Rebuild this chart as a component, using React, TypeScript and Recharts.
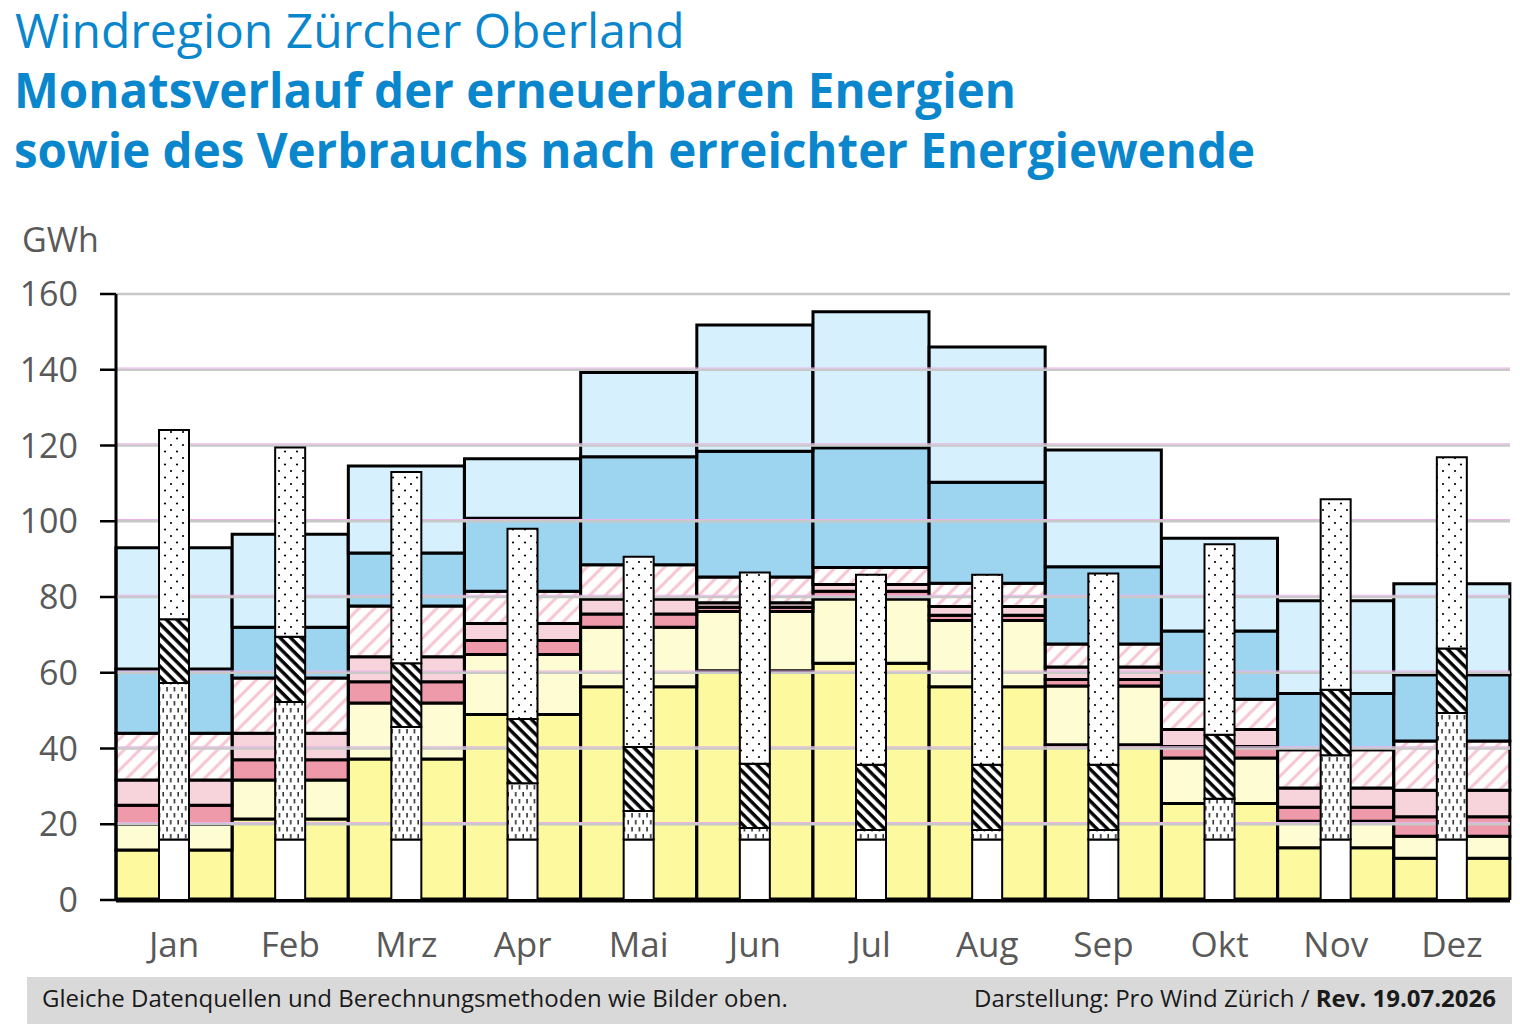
import React from "react";
import { BarChart, Bar, XAxis, YAxis, ReferenceLine } from "recharts";

// ---- Data ----
const months = ["Jan", "Feb", "Mrz", "Apr", "Mai", "Jun", "Jul", "Aug", "Sep", "Okt", "Nov", "Dez"];

// Production layers (GWh, stacked segment values)
const prodYellow = [13.2, 21.4, 37.2, 49, 56.3, 60.5, 62.5, 56.3, 41, 25.5, 13.8, 11];
const prodLightYellow = [6.8, 10.3, 14.8, 15.8, 15.7, 15.7, 17, 17.5, 15.5, 12, 7, 5.8];
const prodDarkPink = [5, 5.3, 5.6, 3.7, 3.5, 1.1, 2, 1.4, 1.7, 3, 3.7, 5.2];
const prodLightPink = [6.7, 7, 6.6, 4.5, 4, 1.2, 1.8, 2.3, 3.3, 4.5, 5.1, 7];
const prodHatchPink = [12.3, 14.6, 13.4, 8.5, 9, 6.8, 4.5, 6.1, 6.1, 8, 10.1, 13];
const prodBlue = [17, 13.4, 14, 19.3, 28.5, 33.2, 31.6, 26.7, 20.4, 18, 14.8, 17.5];
const prodLightBlue = [32, 24.6, 23, 15.7, 22.3, 33.3, 35.9, 35.7, 30.8, 24.5, 24.5, 24];

// Consumption layers (GWh, stacked segment values)
const consBase = [16, 16, 16, 16, 16, 16, 16, 16, 16, 16, 16, 16];
const consDashes = [41.3, 36.3, 29.7, 14.8, 7.5, 3, 2.5, 2.5, 2.5, 10.7, 22.2, 33.4];
const consHatch = [16.8, 17.2, 16.8, 17, 16.9, 17, 17.2, 17.2, 17.2, 16.9, 17.3, 17];
const consDots = [50, 50, 50.5, 50.2, 50.2, 50.5, 50.2, 50.2, 50.5, 50.3, 50.3, 50.5];

const yTicks = [0, 20, 40, 60, 80, 100, 120, 140, 160];
const gridTicks = [20, 40, 60, 80, 100, 120, 140, 160];

const data = months.map((m, i) => ({
  month: m,
  p1: prodYellow[i],
  p2: prodLightYellow[i],
  p3: prodDarkPink[i],
  p4: prodLightPink[i],
  p5: prodHatchPink[i],
  p6: prodBlue[i],
  p7: prodLightBlue[i],
  c1: consBase[i],
  c2: consDashes[i],
  c3: consHatch[i],
  c4: consDots[i],
}));

const FONT = "'Open Sans', 'Noto Sans', sans-serif";
const W = 1520;
const H = 1034;
const MARGIN_TOP = 294;
const MARGIN_RIGHT = 10;
const PLOT_LEFT = 116;
const PLOT_BOTTOM_SPACE = 134;

const GridShape = (props: any) => {
  const { x1, x2, y1, top } = props;
  return (
    <g>
      <line x1={x1} x2={x2} y1={y1} y2={y1} stroke="#c8c8c8" strokeWidth={2.5} />
      {!top && <line x1={x1} x2={x2} y1={y1 - 1.8} y2={y1 - 1.8} stroke="#eab4ea" strokeWidth={1.1} />}
    </g>
  );
};

const prodStroke = { stroke: "#000", strokeWidth: 3 };
const consStroke = { stroke: "#000", strokeWidth: 2 };

export default function App() {
  return (
    <div
      style={{
        position: "relative",
        width: W,
        height: H,
        margin: -8,
        background: "#fff",
        fontFamily: FONT,
        overflow: "hidden",
      }}
    >
      <div style={{ position: "absolute", left: 15, top: 0, fontSize: 48, lineHeight: "60px", color: "#0a86cd", whiteSpace: "nowrap" }}>
        Windregion Zürcher Oberland
      </div>
      <div style={{ position: "absolute", left: 14, top: 66, fontSize: 47.5, lineHeight: "47.5px", fontWeight: 700, color: "#0a86cd", whiteSpace: "nowrap" }}>
        Monatsverlauf der erneuerbaren Energien
      </div>
      <div style={{ position: "absolute", left: 14, top: 126, fontSize: 47.5, lineHeight: "47.5px", fontWeight: 700, color: "#0a86cd", whiteSpace: "nowrap" }}>
        sowie des Verbrauchs nach erreichter Energiewende
      </div>
      <div style={{ position: "absolute", left: 22, top: 222, fontSize: 34, lineHeight: "34px", color: "#595959", whiteSpace: "nowrap" }}>
        GWh
      </div>

      {/* Production chart with axes and grid */}
      <div style={{ position: "absolute", left: 0, top: 0 }}>
        <BarChart
          width={W}
          height={H}
          data={data}
          margin={{ top: MARGIN_TOP, right: MARGIN_RIGHT, left: 16, bottom: PLOT_BOTTOM_SPACE - 50 }}
          barCategoryGap={0}
          barGap={0}
        >
          <defs>
            <pattern id="hatchPink" patternUnits="userSpaceOnUse" width="11" height="11" patternTransform="rotate(45)">
              <rect width="11" height="11" fill="#ffffff" />
              <line x1="2" y1="0" x2="2" y2="11" stroke="#f6c4d1" strokeWidth="3" />
            </pattern>
          </defs>
          <XAxis
            dataKey="month"
            height={50}
            axisLine={{ stroke: "#000", strokeWidth: 5 }}
            tickLine={false}
            tickSize={0}
            tickMargin={32}
            tick={{ fontSize: 35, fill: "#595959", fontFamily: FONT }}
            interval={0}
          />
          <YAxis
            width={100}
            domain={[0, 160]}
            ticks={yTicks}
            type="number"
            allowDataOverflow
            axisLine={{ stroke: "#000", strokeWidth: 3 }}
            tickLine={{ stroke: "#000", strokeWidth: 2.5 }}
            tickSize={16}
            tickMargin={22}
            tick={{ fontSize: 34, fill: "#595959", fontFamily: FONT }}
          />
          <Bar dataKey="p1" stackId="p" fill="#fdf99f" {...prodStroke} isAnimationActive={false} zIndex={300} />
          <Bar dataKey="p2" stackId="p" fill="#fefcd2" {...prodStroke} isAnimationActive={false} zIndex={300} />
          <Bar dataKey="p3" stackId="p" fill="#ee9aab" {...prodStroke} isAnimationActive={false} zIndex={300} />
          <Bar dataKey="p4" stackId="p" fill="#f7d3dc" {...prodStroke} isAnimationActive={false} zIndex={300} />
          <Bar dataKey="p5" stackId="p" fill="url(#hatchPink)" {...prodStroke} isAnimationActive={false} zIndex={300} />
          <Bar dataKey="p6" stackId="p" fill="#9dd5f1" {...prodStroke} isAnimationActive={false} zIndex={300} />
          <Bar dataKey="p7" stackId="p" fill="#d6f1fd" {...prodStroke} isAnimationActive={false} zIndex={300} />
          {gridTicks.map((t) => (
            <ReferenceLine
              key={t}
              y={t}
              zIndex={350}
              ifOverflow="extendDomain"
              shape={(p: any) => <GridShape {...p} top={t === 160} />}
            />
          ))}
        </BarChart>
      </div>

      {/* Consumption chart overlaid */}
      <div style={{ position: "absolute", left: 0, top: 0 }}>
        <BarChart
          width={W}
          height={H}
          data={data}
          margin={{ top: MARGIN_TOP, right: MARGIN_RIGHT, left: PLOT_LEFT, bottom: PLOT_BOTTOM_SPACE }}
          barSize={30}
          barGap={0}
        >
          <defs>
            <pattern id="hatchBlack" patternUnits="userSpaceOnUse" width="7.5" height="7.5" patternTransform="rotate(-45)">
              <rect width="7.5" height="7.5" fill="#ffffff" />
              <line x1="2" y1="0" x2="2" y2="7.5" stroke="#000" strokeWidth="3.4" />
            </pattern>
            <pattern id="dotsPat" patternUnits="userSpaceOnUse" width="12" height="13">
              <rect width="12" height="13" fill="#ffffff" />
              <circle cx="3" cy="3" r="1.1" fill="#000" />
              <circle cx="9" cy="9.5" r="1.1" fill="#000" />
            </pattern>
            <pattern id="dashPat" patternUnits="userSpaceOnUse" width="7.5" height="14">
              <rect width="7.5" height="14" fill="#ffffff" />
              <line x1="2" y1="1" x2="2" y2="5.5" stroke="#000" strokeWidth="1.3" />
              <line x1="5.75" y1="8" x2="5.75" y2="12.5" stroke="#000" strokeWidth="1.3" />
            </pattern>
          </defs>
          <XAxis dataKey="month" hide />
          <YAxis hide domain={[0, 160]} type="number" allowDataOverflow />
          <Bar dataKey="c1" stackId="c" fill="#ffffff" {...consStroke} isAnimationActive={false} zIndex={400} />
          <Bar dataKey="c2" stackId="c" fill="url(#dashPat)" {...consStroke} isAnimationActive={false} zIndex={400} />
          <Bar dataKey="c3" stackId="c" fill="url(#hatchBlack)" {...consStroke} isAnimationActive={false} zIndex={400} />
          <Bar dataKey="c4" stackId="c" fill="url(#dotsPat)" {...consStroke} isAnimationActive={false} zIndex={400} />
        </BarChart>
      </div>

      {/* Footer */}
      <div style={{ position: "absolute", left: 27, top: 977, width: 1488, height: 47, background: "#d9d9d9" }} />
      <div style={{ position: "absolute", left: 42, top: 986, fontSize: 24, lineHeight: "24px", color: "#1a1a1a", whiteSpace: "nowrap" }}>
        Gleiche Datenquellen und Berechnungsmethoden wie Bilder oben.
      </div>
      <div style={{ position: "absolute", right: 24, top: 986, fontSize: 24, lineHeight: "24px", color: "#1a1a1a", whiteSpace: "nowrap" }}>
        Darstellung: Pro Wind Zürich / <span style={{ fontWeight: 700 }}>Rev. 19.07.2026</span>
      </div>
    </div>
  );
}
